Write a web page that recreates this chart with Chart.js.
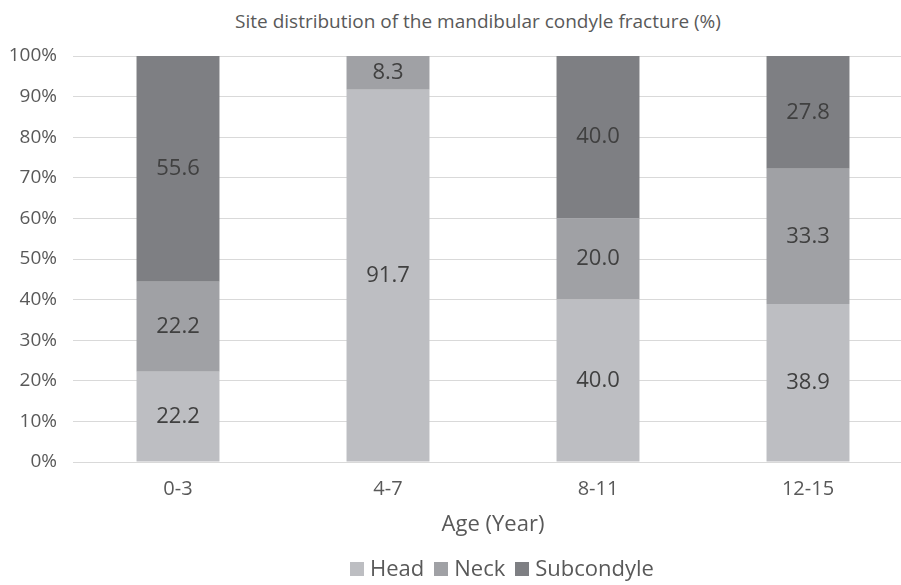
<!DOCTYPE html>
<html>
<head>
<meta charset="utf-8">
<script src="https://cdn.jsdelivr.net/npm/chart.js@4.4.1/dist/chart.umd.min.js"></script>
<style>
  html, body { margin: 0; padding: 0; background: #fff; overflow: hidden; }
  body { width: 901px; height: 585px; position: relative; font-family: "Open Sans", "Noto Sans", sans-serif; }
  #wrap { position: absolute; left: 0; top: 0; width: 966px; height: 585px; }
  #title { position: absolute; top: 8px; left: 0; width: 956px; text-align: center; font-size: 19px; color: #595959; }
  #legend { position: absolute; top: 552px; left: 0; width: 1004px; text-align: center; font-size: 22px; color: #595959; }
  #legend span.item { margin: 0 5px; white-space: nowrap; }
  #legend span.box { display: inline-block; width: 14px; height: 14px; margin-right: 6px; vertical-align: 0px; }
</style>
</head>
<body>
<div id="title">Site distribution of the mandibular condyle fracture (%)</div>
<div id="wrap"><canvas id="chart" width="966" height="585"></canvas></div>
<div id="legend"></div>
<script>
  // Data
  const ageGroups = ['0-3', '4-7', '8-11', '12-15'];
  const headValues = [22.2, 91.7, 40.0, 38.9];
  const neckValues = [22.2, 8.3, 20.0, 33.3];
  const subcondyleValues = [55.6, 0, 40.0, 27.8];
  const seriesNames = ['Head', 'Neck', 'Subcondyle'];
  const seriesColors = ['#bdbec2', '#a0a1a5', '#7e7f83'];
  const yTicks = [0, 10, 20, 30, 40, 50, 60, 70, 80, 90, 100];

  const fontFamily = '"Open Sans", "Noto Sans", sans-serif';

  // Value labels in the middle of each segment
  const segmentLabels = {
    id: 'segmentLabels',
    afterDatasetsDraw(chart) {
      const ctx = chart.ctx;
      ctx.save();
      ctx.font = '22px ' + fontFamily;
      ctx.fillStyle = '#404040';
      ctx.textAlign = 'center';
      ctx.textBaseline = 'middle';
      chart.data.datasets.forEach((ds, i) => {
        chart.getDatasetMeta(i).data.forEach((bar, j) => {
          const v = ds.data[j];
          if (!v) return;
          const mid = (bar.y + bar.base) / 2;
          ctx.fillText(v.toFixed(1), bar.x, mid);
        });
      });
      ctx.restore();
    }
  };

  const valueSets = [headValues, neckValues, subcondyleValues];
  const chart = new Chart(document.getElementById('chart'), {
    type: 'bar',
    data: {
      labels: ageGroups,
      datasets: seriesNames.map((name, i) => ({
        label: name,
        data: valueSets[i],
        backgroundColor: seriesColors[i],
        borderWidth: 0,
        barPercentage: 0.395,
        categoryPercentage: 1
      }))
    },
    options: {
      responsive: false,
      animation: false,
      layout: { padding: { left: 0, right: 53, top: 56, bottom: 41 } },
      plugins: {
        legend: { display: false },
        tooltip: { enabled: false }
      },
      scales: {
        x: {
          stacked: true,
          grid: { display: false, drawTicks: false },
          border: { color: '#d9d9d9', width: 1 },
          ticks: { color: '#595959', font: { size: 20, family: fontFamily }, padding: 15 },
          title: {
            display: true,
            text: 'Age (Year)',
            color: '#595959',
            font: { size: 22, family: fontFamily },
            padding: { top: 0, bottom: 6 }
          },
          afterFit: s => { s.height = 82; }
        },
        y: {
          stacked: true,
          min: 0,
          max: 100,
          afterBuildTicks: s => { s.ticks = yTicks.map(v => ({ value: v })); },
          grid: { color: '#d9d9d9', drawTicks: false },
          border: { display: false },
          ticks: {
            color: '#595959',
            font: { size: 19, family: fontFamily },
            padding: 16,
            callback: v => v + '%'
          },
          afterFit: s => { s.width = 73; }
        }
      }
    },
    plugins: [segmentLabels]
  });

  // HTML legend built from the series arrays
  document.getElementById('legend').innerHTML = seriesNames.map((n, i) =>
    `<span class="item"><span class="box" style="background:${seriesColors[i]}"></span>${n}</span>`
  ).join('');
</script>
</body>
</html>
